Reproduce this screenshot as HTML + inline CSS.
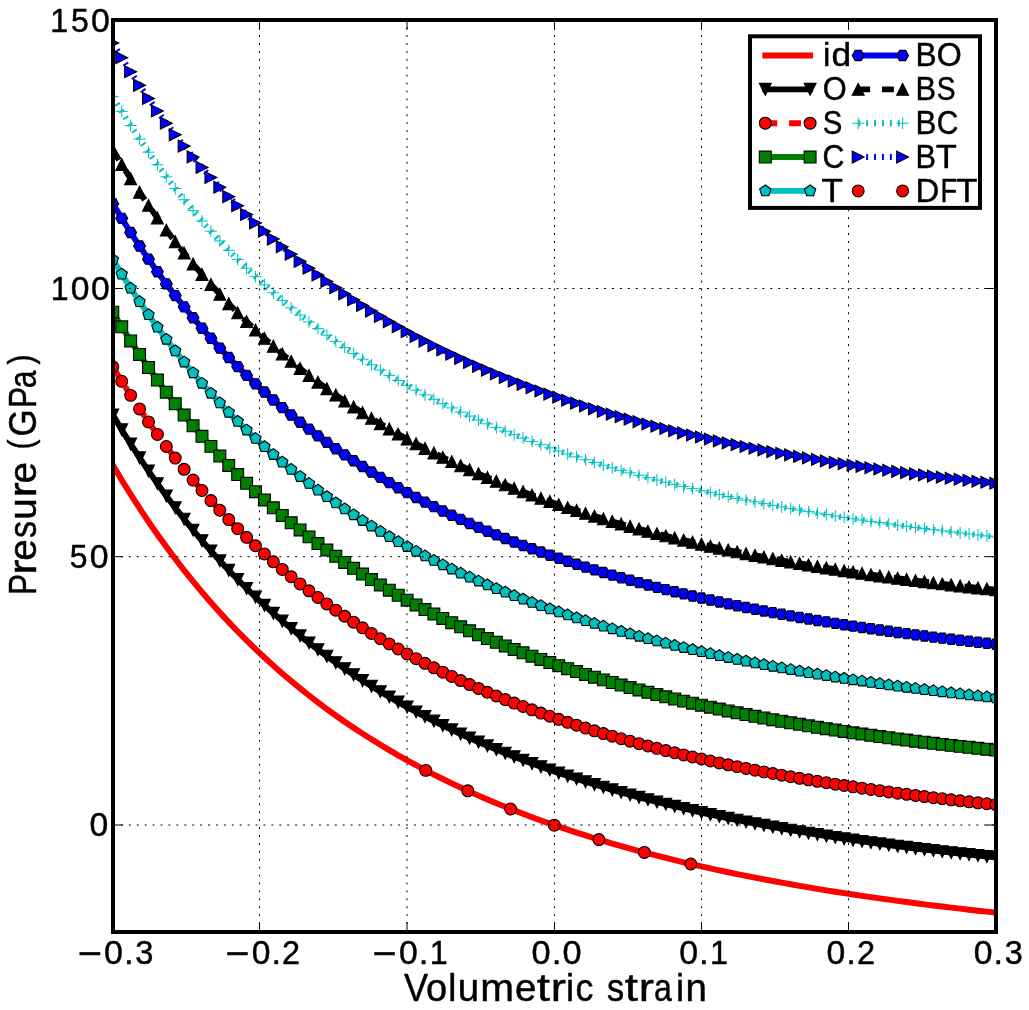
<!DOCTYPE html><html><head><meta charset="utf-8"><style>html,body{margin:0;padding:0;background:#fff;overflow:hidden}svg{display:block;will-change:transform;filter:blur(0.35px)}text{font-family:"Liberation Sans", sans-serif;font-kerning:none;fill:#000;stroke:#000;stroke-width:0.45px;stroke-linejoin:round}</style></head><body>
<svg width="1029" height="1010" viewBox="0 0 1029 1010">
<defs><clipPath id="ax"><rect x="112.8" y="20" width="883" height="912.5"/></clipPath>
<path id="mv" d="M0 5.94 L5.94 -5.94 L-5.94 -5.94 Z"/>
<path id="mu" d="M0 -5.94 L-5.94 5.94 L5.94 5.94 Z"/>
<path id="mr" d="M5.94 0 L-5.94 -5.94 L-5.94 5.94 Z"/>
<path id="ms" d="M-5.94 -5.94 L5.94 -5.94 L5.94 5.94 L-5.94 5.94 Z"/>
<path id="mp" d="M0 -5.94 L-5.65 -1.84 L-3.49 4.81 L3.49 4.81 L5.65 -1.84 Z"/>
<path id="mH" d="M-2.97 -5.14 L-5.94 -0 L-2.97 5.14 L2.97 5.14 L5.94 0 L2.97 -5.14 Z"/>
<circle id="mo" r="5.94"/>
<path id="mplus" d="M-5.94 0 H5.94 M0 -5.94 V5.94"/>
</defs>
<rect width="1029" height="1010" fill="#fff"/>
<g clip-path="url(#ax)">
<path d="M112.8 464.92 L121.72 479.91 L130.64 494.33 L139.56 508.21 L148.48 521.58 L157.4 534.45 L166.32 546.85 L175.23 558.81 L184.15 570.33 L193.07 581.44 L201.99 592.16 L210.91 602.5 L219.83 612.48 L228.75 622.12 L237.67 631.43 L246.59 640.42 L255.51 649.1 L264.43 657.49 L273.35 665.61 L282.26 673.46 L291.18 681.04 L300.1 688.39 L309.02 695.49 L317.94 702.37 L326.86 709.02 L335.78 715.47 L344.7 721.71 L353.62 727.76 L362.54 733.62 L371.46 739.3 L380.38 744.81 L389.29 750.15 L398.21 755.33 L407.13 760.35 L416.05 765.23 L424.97 769.96 L433.89 774.55 L442.81 779.01 L451.73 783.34 L460.65 787.54 L469.57 791.62 L478.49 795.59 L487.41 799.44 L496.33 803.19 L505.24 806.83 L514.16 810.37 L523.08 813.82 L532 817.17 L540.92 820.42 L549.84 823.59 L558.76 826.68 L567.68 829.68 L576.6 832.6 L585.52 835.45 L594.44 838.22 L603.36 840.92 L612.27 843.54 L621.19 846.1 L630.11 848.6 L639.03 851.03 L647.95 853.4 L656.87 855.71 L665.79 857.96 L674.71 860.15 L683.63 862.29 L692.55 864.38 L701.47 866.42 L710.39 868.4 L719.31 870.34 L728.22 872.23 L737.14 874.08 L746.06 875.88 L754.98 877.64 L763.9 879.36 L772.82 881.03 L781.74 882.67 L790.66 884.27 L799.58 885.83 L808.5 887.36 L817.42 888.85 L826.34 890.31 L835.25 891.73 L844.17 893.13 L853.09 894.49 L862.01 895.82 L870.93 897.12 L879.85 898.39 L888.77 899.64 L897.69 900.85 L906.61 902.04 L915.53 903.21 L924.45 904.35 L933.37 905.46 L942.28 906.56 L951.2 907.62 L960.12 908.67 L969.04 909.69 L977.96 910.69 L986.88 911.67 L995.8 912.63" fill="none" stroke="#ff0000" stroke-width="5.94" stroke-linecap="square" stroke-linejoin="round"/>
<path d="M112.8 414.87 L121.72 429.7 L130.64 443.98 L139.56 457.71 L148.48 470.94 L157.4 483.67 L166.32 495.94 L175.23 507.76 L184.15 519.15 L193.07 530.14 L201.99 540.74 L210.91 550.96 L219.83 560.83 L228.75 570.35 L237.67 579.55 L246.59 588.44 L255.51 597.02 L264.43 605.31 L273.35 613.33 L282.26 621.09 L291.18 628.59 L300.1 635.85 L309.02 642.87 L317.94 649.66 L326.86 656.25 L335.78 662.62 L344.7 668.79 L353.62 674.78 L362.54 680.58 L371.46 686.2 L380.38 691.65 L389.29 696.93 L398.21 702.06 L407.13 707.04 L416.05 711.87 L424.97 716.56 L433.89 721.11 L442.81 725.53 L451.73 729.83 L460.65 734 L469.57 738.06 L478.49 742 L487.41 745.84 L496.33 749.57 L505.24 753.19 L514.16 756.72 L523.08 760.16 L532 763.5 L540.92 766.75 L549.84 769.92 L558.76 773 L567.68 776 L576.6 778.92 L585.52 781.76 L594.44 784.53 L603.36 787.22 L612.27 789.84 L621.19 792.39 L630.11 794.87 L639.03 797.29 L647.95 799.65 L656.87 801.94 L665.79 804.18 L674.71 806.36 L683.63 808.48 L692.55 810.55 L701.47 812.56 L710.39 814.53 L719.31 816.44 L728.22 818.31 L737.14 820.13 L746.06 821.9 L754.98 823.63 L763.9 825.32 L772.82 826.96 L781.74 828.57 L790.66 830.14 L799.58 831.66 L808.5 833.15 L817.42 834.61 L826.34 836.03 L835.25 837.41 L844.17 838.76 L853.09 840.08 L862.01 841.37 L870.93 842.62 L879.85 843.85 L888.77 845.04 L897.69 846.21 L906.61 847.35 L915.53 848.46 L924.45 849.55 L933.37 850.61 L942.28 851.64 L951.2 852.65 L960.12 853.64 L969.04 854.6 L977.96 855.54 L986.88 856.46 L995.8 857.36" fill="none" stroke="#000000" stroke-width="5.94" stroke-linecap="square" stroke-linejoin="round"/>
<g fill="#000000" stroke="#000" stroke-width="1.1">
<use href="#mv" x="112.8" y="414.87"/>
<use href="#mv" x="121.72" y="429.7"/>
<use href="#mv" x="130.64" y="443.98"/>
<use href="#mv" x="139.56" y="457.71"/>
<use href="#mv" x="148.48" y="470.94"/>
<use href="#mv" x="157.4" y="483.67"/>
<use href="#mv" x="166.32" y="495.94"/>
<use href="#mv" x="175.23" y="507.76"/>
<use href="#mv" x="184.15" y="519.15"/>
<use href="#mv" x="193.07" y="530.14"/>
<use href="#mv" x="201.99" y="540.74"/>
<use href="#mv" x="210.91" y="550.96"/>
<use href="#mv" x="219.83" y="560.83"/>
<use href="#mv" x="228.75" y="570.35"/>
<use href="#mv" x="237.67" y="579.55"/>
<use href="#mv" x="246.59" y="588.44"/>
<use href="#mv" x="255.51" y="597.02"/>
<use href="#mv" x="264.43" y="605.31"/>
<use href="#mv" x="273.35" y="613.33"/>
<use href="#mv" x="282.26" y="621.09"/>
<use href="#mv" x="291.18" y="628.59"/>
<use href="#mv" x="300.1" y="635.85"/>
<use href="#mv" x="309.02" y="642.87"/>
<use href="#mv" x="317.94" y="649.66"/>
<use href="#mv" x="326.86" y="656.25"/>
<use href="#mv" x="335.78" y="662.62"/>
<use href="#mv" x="344.7" y="668.79"/>
<use href="#mv" x="353.62" y="674.78"/>
<use href="#mv" x="362.54" y="680.58"/>
<use href="#mv" x="371.46" y="686.2"/>
<use href="#mv" x="380.38" y="691.65"/>
<use href="#mv" x="389.29" y="696.93"/>
<use href="#mv" x="398.21" y="702.06"/>
<use href="#mv" x="407.13" y="707.04"/>
<use href="#mv" x="416.05" y="711.87"/>
<use href="#mv" x="424.97" y="716.56"/>
<use href="#mv" x="433.89" y="721.11"/>
<use href="#mv" x="442.81" y="725.53"/>
<use href="#mv" x="451.73" y="729.83"/>
<use href="#mv" x="460.65" y="734"/>
<use href="#mv" x="469.57" y="738.06"/>
<use href="#mv" x="478.49" y="742"/>
<use href="#mv" x="487.41" y="745.84"/>
<use href="#mv" x="496.33" y="749.57"/>
<use href="#mv" x="505.24" y="753.19"/>
<use href="#mv" x="514.16" y="756.72"/>
<use href="#mv" x="523.08" y="760.16"/>
<use href="#mv" x="532" y="763.5"/>
<use href="#mv" x="540.92" y="766.75"/>
<use href="#mv" x="549.84" y="769.92"/>
<use href="#mv" x="558.76" y="773"/>
<use href="#mv" x="567.68" y="776"/>
<use href="#mv" x="576.6" y="778.92"/>
<use href="#mv" x="585.52" y="781.76"/>
<use href="#mv" x="594.44" y="784.53"/>
<use href="#mv" x="603.36" y="787.22"/>
<use href="#mv" x="612.27" y="789.84"/>
<use href="#mv" x="621.19" y="792.39"/>
<use href="#mv" x="630.11" y="794.87"/>
<use href="#mv" x="639.03" y="797.29"/>
<use href="#mv" x="647.95" y="799.65"/>
<use href="#mv" x="656.87" y="801.94"/>
<use href="#mv" x="665.79" y="804.18"/>
<use href="#mv" x="674.71" y="806.36"/>
<use href="#mv" x="683.63" y="808.48"/>
<use href="#mv" x="692.55" y="810.55"/>
<use href="#mv" x="701.47" y="812.56"/>
<use href="#mv" x="710.39" y="814.53"/>
<use href="#mv" x="719.31" y="816.44"/>
<use href="#mv" x="728.22" y="818.31"/>
<use href="#mv" x="737.14" y="820.13"/>
<use href="#mv" x="746.06" y="821.9"/>
<use href="#mv" x="754.98" y="823.63"/>
<use href="#mv" x="763.9" y="825.32"/>
<use href="#mv" x="772.82" y="826.96"/>
<use href="#mv" x="781.74" y="828.57"/>
<use href="#mv" x="790.66" y="830.14"/>
<use href="#mv" x="799.58" y="831.66"/>
<use href="#mv" x="808.5" y="833.15"/>
<use href="#mv" x="817.42" y="834.61"/>
<use href="#mv" x="826.34" y="836.03"/>
<use href="#mv" x="835.25" y="837.41"/>
<use href="#mv" x="844.17" y="838.76"/>
<use href="#mv" x="853.09" y="840.08"/>
<use href="#mv" x="862.01" y="841.37"/>
<use href="#mv" x="870.93" y="842.62"/>
<use href="#mv" x="879.85" y="843.85"/>
<use href="#mv" x="888.77" y="845.04"/>
<use href="#mv" x="897.69" y="846.21"/>
<use href="#mv" x="906.61" y="847.35"/>
<use href="#mv" x="915.53" y="848.46"/>
<use href="#mv" x="924.45" y="849.55"/>
<use href="#mv" x="933.37" y="850.61"/>
<use href="#mv" x="942.28" y="851.64"/>
<use href="#mv" x="951.2" y="852.65"/>
<use href="#mv" x="960.12" y="853.64"/>
<use href="#mv" x="969.04" y="854.6"/>
<use href="#mv" x="977.96" y="855.54"/>
<use href="#mv" x="986.88" y="856.46"/>
<use href="#mv" x="995.8" y="857.36"/>
</g>
<path d="M112.8 366.72 L121.72 381.33 L130.64 395.37 L139.56 408.89 L148.48 421.89 L157.4 434.42 L166.32 446.48 L175.23 458.1 L184.15 469.3 L193.07 480.09 L201.99 490.51 L210.91 500.55 L219.83 510.24 L228.75 519.59 L237.67 528.63 L246.59 537.35 L255.51 545.78 L264.43 553.92 L273.35 561.8 L282.26 569.41 L291.18 576.78 L300.1 583.9 L309.02 590.8 L317.94 597.48 L326.86 603.94 L335.78 610.21 L344.7 616.28 L353.62 622.16 L362.54 627.86 L371.46 633.39 L380.38 638.75 L389.29 643.96 L398.21 649.01 L407.13 653.91 L416.05 658.68 L424.97 663.3 L433.89 667.8 L442.81 672.16 L451.73 676.41 L460.65 680.54 L469.57 684.56 L478.49 688.46 L487.41 692.27 L496.33 695.97 L505.24 699.57 L514.16 703.08 L523.08 706.5 L532 709.83 L540.92 713.08 L549.84 716.24 L558.76 719.33 L567.68 722.33 L576.6 725.25 L585.52 728.09 L594.44 730.86 L603.36 733.56 L612.27 736.18 L621.19 738.74 L630.11 741.23 L639.03 743.65 L647.95 746.02 L656.87 748.32 L665.79 750.57 L674.71 752.75 L683.63 754.89 L692.55 756.97 L701.47 759 L710.39 760.97 L719.31 762.9 L728.22 764.79 L737.14 766.62 L746.06 768.41 L754.98 770.16 L763.9 771.87 L772.82 773.53 L781.74 775.16 L790.66 776.75 L799.58 778.3 L808.5 779.81 L817.42 781.29 L826.34 782.73 L835.25 784.14 L844.17 785.52 L853.09 786.86 L862.01 788.17 L870.93 789.46 L879.85 790.71 L888.77 791.94 L897.69 793.14 L906.61 794.31 L915.53 795.45 L924.45 796.57 L933.37 797.67 L942.28 798.74 L951.2 799.79 L960.12 800.81 L969.04 801.81 L977.96 802.79 L986.88 803.75 L995.8 804.68" fill="none" stroke="#ff0000" stroke-width="5.94" stroke-dasharray="11.88 11.88" stroke-linecap="butt" stroke-linejoin="round"/>
<g fill="#ff0000" stroke="#000" stroke-width="1.1">
<use href="#mo" x="112.8" y="366.72"/>
<use href="#mo" x="121.72" y="381.33"/>
<use href="#mo" x="130.64" y="395.37"/>
<use href="#mo" x="139.56" y="408.89"/>
<use href="#mo" x="148.48" y="421.89"/>
<use href="#mo" x="157.4" y="434.42"/>
<use href="#mo" x="166.32" y="446.48"/>
<use href="#mo" x="175.23" y="458.1"/>
<use href="#mo" x="184.15" y="469.3"/>
<use href="#mo" x="193.07" y="480.09"/>
<use href="#mo" x="201.99" y="490.51"/>
<use href="#mo" x="210.91" y="500.55"/>
<use href="#mo" x="219.83" y="510.24"/>
<use href="#mo" x="228.75" y="519.59"/>
<use href="#mo" x="237.67" y="528.63"/>
<use href="#mo" x="246.59" y="537.35"/>
<use href="#mo" x="255.51" y="545.78"/>
<use href="#mo" x="264.43" y="553.92"/>
<use href="#mo" x="273.35" y="561.8"/>
<use href="#mo" x="282.26" y="569.41"/>
<use href="#mo" x="291.18" y="576.78"/>
<use href="#mo" x="300.1" y="583.9"/>
<use href="#mo" x="309.02" y="590.8"/>
<use href="#mo" x="317.94" y="597.48"/>
<use href="#mo" x="326.86" y="603.94"/>
<use href="#mo" x="335.78" y="610.21"/>
<use href="#mo" x="344.7" y="616.28"/>
<use href="#mo" x="353.62" y="622.16"/>
<use href="#mo" x="362.54" y="627.86"/>
<use href="#mo" x="371.46" y="633.39"/>
<use href="#mo" x="380.38" y="638.75"/>
<use href="#mo" x="389.29" y="643.96"/>
<use href="#mo" x="398.21" y="649.01"/>
<use href="#mo" x="407.13" y="653.91"/>
<use href="#mo" x="416.05" y="658.68"/>
<use href="#mo" x="424.97" y="663.3"/>
<use href="#mo" x="433.89" y="667.8"/>
<use href="#mo" x="442.81" y="672.16"/>
<use href="#mo" x="451.73" y="676.41"/>
<use href="#mo" x="460.65" y="680.54"/>
<use href="#mo" x="469.57" y="684.56"/>
<use href="#mo" x="478.49" y="688.46"/>
<use href="#mo" x="487.41" y="692.27"/>
<use href="#mo" x="496.33" y="695.97"/>
<use href="#mo" x="505.24" y="699.57"/>
<use href="#mo" x="514.16" y="703.08"/>
<use href="#mo" x="523.08" y="706.5"/>
<use href="#mo" x="532" y="709.83"/>
<use href="#mo" x="540.92" y="713.08"/>
<use href="#mo" x="549.84" y="716.24"/>
<use href="#mo" x="558.76" y="719.33"/>
<use href="#mo" x="567.68" y="722.33"/>
<use href="#mo" x="576.6" y="725.25"/>
<use href="#mo" x="585.52" y="728.09"/>
<use href="#mo" x="594.44" y="730.86"/>
<use href="#mo" x="603.36" y="733.56"/>
<use href="#mo" x="612.27" y="736.18"/>
<use href="#mo" x="621.19" y="738.74"/>
<use href="#mo" x="630.11" y="741.23"/>
<use href="#mo" x="639.03" y="743.65"/>
<use href="#mo" x="647.95" y="746.02"/>
<use href="#mo" x="656.87" y="748.32"/>
<use href="#mo" x="665.79" y="750.57"/>
<use href="#mo" x="674.71" y="752.75"/>
<use href="#mo" x="683.63" y="754.89"/>
<use href="#mo" x="692.55" y="756.97"/>
<use href="#mo" x="701.47" y="759"/>
<use href="#mo" x="710.39" y="760.97"/>
<use href="#mo" x="719.31" y="762.9"/>
<use href="#mo" x="728.22" y="764.79"/>
<use href="#mo" x="737.14" y="766.62"/>
<use href="#mo" x="746.06" y="768.41"/>
<use href="#mo" x="754.98" y="770.16"/>
<use href="#mo" x="763.9" y="771.87"/>
<use href="#mo" x="772.82" y="773.53"/>
<use href="#mo" x="781.74" y="775.16"/>
<use href="#mo" x="790.66" y="776.75"/>
<use href="#mo" x="799.58" y="778.3"/>
<use href="#mo" x="808.5" y="779.81"/>
<use href="#mo" x="817.42" y="781.29"/>
<use href="#mo" x="826.34" y="782.73"/>
<use href="#mo" x="835.25" y="784.14"/>
<use href="#mo" x="844.17" y="785.52"/>
<use href="#mo" x="853.09" y="786.86"/>
<use href="#mo" x="862.01" y="788.17"/>
<use href="#mo" x="870.93" y="789.46"/>
<use href="#mo" x="879.85" y="790.71"/>
<use href="#mo" x="888.77" y="791.94"/>
<use href="#mo" x="897.69" y="793.14"/>
<use href="#mo" x="906.61" y="794.31"/>
<use href="#mo" x="915.53" y="795.45"/>
<use href="#mo" x="924.45" y="796.57"/>
<use href="#mo" x="933.37" y="797.67"/>
<use href="#mo" x="942.28" y="798.74"/>
<use href="#mo" x="951.2" y="799.79"/>
<use href="#mo" x="960.12" y="800.81"/>
<use href="#mo" x="969.04" y="801.81"/>
<use href="#mo" x="977.96" y="802.79"/>
<use href="#mo" x="986.88" y="803.75"/>
<use href="#mo" x="995.8" y="804.68"/>
</g>
<path d="M112.8 312.19 L121.72 326.83 L130.64 340.91 L139.56 354.46 L148.48 367.5 L157.4 380.06 L166.32 392.15 L175.23 403.8 L184.15 415.03 L193.07 425.86 L201.99 436.3 L210.91 446.37 L219.83 456.09 L228.75 465.47 L237.67 474.52 L246.59 483.27 L255.51 491.73 L264.43 499.89 L273.35 507.79 L282.26 515.43 L291.18 522.81 L300.1 529.96 L309.02 536.88 L317.94 543.57 L326.86 550.05 L335.78 556.34 L344.7 562.42 L353.62 568.32 L362.54 574.03 L371.46 579.58 L380.38 584.96 L389.29 590.17 L398.21 595.24 L407.13 600.15 L416.05 604.92 L424.97 609.56 L433.89 614.06 L442.81 618.44 L451.73 622.69 L460.65 626.83 L469.57 630.85 L478.49 634.77 L487.41 638.57 L496.33 642.28 L505.24 645.89 L514.16 649.4 L523.08 652.82 L532 656.15 L540.92 659.4 L549.84 662.57 L558.76 665.65 L567.68 668.65 L576.6 671.57 L585.52 674.41 L594.44 677.18 L603.36 679.87 L612.27 682.49 L621.19 685.04 L630.11 687.52 L639.03 689.94 L647.95 692.3 L656.87 694.59 L665.79 696.83 L674.71 699.01 L683.63 701.13 L692.55 703.2 L701.47 705.22 L710.39 707.18 L719.31 709.1 L728.22 710.97 L737.14 712.79 L746.06 714.57 L754.98 716.3 L763.9 717.99 L772.82 719.64 L781.74 721.24 L790.66 722.81 L799.58 724.34 L808.5 725.83 L817.42 727.29 L826.34 728.71 L835.25 730.1 L844.17 731.45 L853.09 732.77 L862.01 734.06 L870.93 735.32 L879.85 736.55 L888.77 737.75 L897.69 738.92 L906.61 740.06 L915.53 741.18 L924.45 742.26 L933.37 743.33 L942.28 744.37 L951.2 745.38 L960.12 746.37 L969.04 747.34 L977.96 748.28 L986.88 749.21 L995.8 750.11" fill="none" stroke="#008000" stroke-width="5.94" stroke-linecap="square" stroke-linejoin="round"/>
<g fill="#008000" stroke="#000" stroke-width="1.1">
<use href="#ms" x="112.8" y="312.19"/>
<use href="#ms" x="121.72" y="326.83"/>
<use href="#ms" x="130.64" y="340.91"/>
<use href="#ms" x="139.56" y="354.46"/>
<use href="#ms" x="148.48" y="367.5"/>
<use href="#ms" x="157.4" y="380.06"/>
<use href="#ms" x="166.32" y="392.15"/>
<use href="#ms" x="175.23" y="403.8"/>
<use href="#ms" x="184.15" y="415.03"/>
<use href="#ms" x="193.07" y="425.86"/>
<use href="#ms" x="201.99" y="436.3"/>
<use href="#ms" x="210.91" y="446.37"/>
<use href="#ms" x="219.83" y="456.09"/>
<use href="#ms" x="228.75" y="465.47"/>
<use href="#ms" x="237.67" y="474.52"/>
<use href="#ms" x="246.59" y="483.27"/>
<use href="#ms" x="255.51" y="491.73"/>
<use href="#ms" x="264.43" y="499.89"/>
<use href="#ms" x="273.35" y="507.79"/>
<use href="#ms" x="282.26" y="515.43"/>
<use href="#ms" x="291.18" y="522.81"/>
<use href="#ms" x="300.1" y="529.96"/>
<use href="#ms" x="309.02" y="536.88"/>
<use href="#ms" x="317.94" y="543.57"/>
<use href="#ms" x="326.86" y="550.05"/>
<use href="#ms" x="335.78" y="556.34"/>
<use href="#ms" x="344.7" y="562.42"/>
<use href="#ms" x="353.62" y="568.32"/>
<use href="#ms" x="362.54" y="574.03"/>
<use href="#ms" x="371.46" y="579.58"/>
<use href="#ms" x="380.38" y="584.96"/>
<use href="#ms" x="389.29" y="590.17"/>
<use href="#ms" x="398.21" y="595.24"/>
<use href="#ms" x="407.13" y="600.15"/>
<use href="#ms" x="416.05" y="604.92"/>
<use href="#ms" x="424.97" y="609.56"/>
<use href="#ms" x="433.89" y="614.06"/>
<use href="#ms" x="442.81" y="618.44"/>
<use href="#ms" x="451.73" y="622.69"/>
<use href="#ms" x="460.65" y="626.83"/>
<use href="#ms" x="469.57" y="630.85"/>
<use href="#ms" x="478.49" y="634.77"/>
<use href="#ms" x="487.41" y="638.57"/>
<use href="#ms" x="496.33" y="642.28"/>
<use href="#ms" x="505.24" y="645.89"/>
<use href="#ms" x="514.16" y="649.4"/>
<use href="#ms" x="523.08" y="652.82"/>
<use href="#ms" x="532" y="656.15"/>
<use href="#ms" x="540.92" y="659.4"/>
<use href="#ms" x="549.84" y="662.57"/>
<use href="#ms" x="558.76" y="665.65"/>
<use href="#ms" x="567.68" y="668.65"/>
<use href="#ms" x="576.6" y="671.57"/>
<use href="#ms" x="585.52" y="674.41"/>
<use href="#ms" x="594.44" y="677.18"/>
<use href="#ms" x="603.36" y="679.87"/>
<use href="#ms" x="612.27" y="682.49"/>
<use href="#ms" x="621.19" y="685.04"/>
<use href="#ms" x="630.11" y="687.52"/>
<use href="#ms" x="639.03" y="689.94"/>
<use href="#ms" x="647.95" y="692.3"/>
<use href="#ms" x="656.87" y="694.59"/>
<use href="#ms" x="665.79" y="696.83"/>
<use href="#ms" x="674.71" y="699.01"/>
<use href="#ms" x="683.63" y="701.13"/>
<use href="#ms" x="692.55" y="703.2"/>
<use href="#ms" x="701.47" y="705.22"/>
<use href="#ms" x="710.39" y="707.18"/>
<use href="#ms" x="719.31" y="709.1"/>
<use href="#ms" x="728.22" y="710.97"/>
<use href="#ms" x="737.14" y="712.79"/>
<use href="#ms" x="746.06" y="714.57"/>
<use href="#ms" x="754.98" y="716.3"/>
<use href="#ms" x="763.9" y="717.99"/>
<use href="#ms" x="772.82" y="719.64"/>
<use href="#ms" x="781.74" y="721.24"/>
<use href="#ms" x="790.66" y="722.81"/>
<use href="#ms" x="799.58" y="724.34"/>
<use href="#ms" x="808.5" y="725.83"/>
<use href="#ms" x="817.42" y="727.29"/>
<use href="#ms" x="826.34" y="728.71"/>
<use href="#ms" x="835.25" y="730.1"/>
<use href="#ms" x="844.17" y="731.45"/>
<use href="#ms" x="853.09" y="732.77"/>
<use href="#ms" x="862.01" y="734.06"/>
<use href="#ms" x="870.93" y="735.32"/>
<use href="#ms" x="879.85" y="736.55"/>
<use href="#ms" x="888.77" y="737.75"/>
<use href="#ms" x="897.69" y="738.92"/>
<use href="#ms" x="906.61" y="740.06"/>
<use href="#ms" x="915.53" y="741.18"/>
<use href="#ms" x="924.45" y="742.26"/>
<use href="#ms" x="933.37" y="743.33"/>
<use href="#ms" x="942.28" y="744.37"/>
<use href="#ms" x="951.2" y="745.38"/>
<use href="#ms" x="960.12" y="746.37"/>
<use href="#ms" x="969.04" y="747.34"/>
<use href="#ms" x="977.96" y="748.28"/>
<use href="#ms" x="986.88" y="749.21"/>
<use href="#ms" x="995.8" y="750.11"/>
</g>
<path d="M112.8 259.56 L121.72 274.15 L130.64 288.19 L139.56 301.7 L148.48 314.7 L157.4 327.21 L166.32 339.27 L175.23 350.88 L184.15 362.07 L193.07 372.86 L201.99 383.27 L210.91 393.31 L219.83 402.99 L228.75 412.34 L237.67 421.37 L246.59 430.09 L255.51 438.51 L264.43 446.65 L273.35 454.52 L282.26 462.13 L291.18 469.49 L300.1 476.61 L309.02 483.5 L317.94 490.18 L326.86 496.64 L335.78 502.9 L344.7 508.96 L353.62 514.84 L362.54 520.54 L371.46 526.07 L380.38 531.43 L389.29 536.63 L398.21 541.68 L407.13 546.58 L416.05 551.34 L424.97 555.96 L433.89 560.46 L442.81 564.82 L451.73 569.07 L460.65 573.19 L469.57 577.21 L478.49 581.11 L487.41 584.92 L496.33 588.62 L505.24 592.22 L514.16 595.73 L523.08 599.15 L532 602.48 L540.92 605.72 L549.84 608.89 L558.76 611.97 L567.68 614.97 L576.6 617.9 L585.52 620.74 L594.44 623.51 L603.36 626.21 L612.27 628.84 L621.19 631.4 L630.11 633.89 L639.03 636.32 L647.95 638.69 L656.87 641 L665.79 643.25 L674.71 645.45 L683.63 647.59 L692.55 649.67 L701.47 651.71 L710.39 653.7 L719.31 655.63 L728.22 657.53 L737.14 659.37 L746.06 661.17 L754.98 662.93 L763.9 664.65 L772.82 666.33 L781.74 667.97 L790.66 669.57 L799.58 671.13 L808.5 672.65 L817.42 674.15 L826.34 675.6 L835.25 677.03 L844.17 678.42 L853.09 679.78 L862.01 681.11 L870.93 682.41 L879.85 683.69 L888.77 684.93 L897.69 686.15 L906.61 687.34 L915.53 688.5 L924.45 689.64 L933.37 690.76 L942.28 691.85 L951.2 692.92 L960.12 693.96 L969.04 694.99 L977.96 695.99 L986.88 696.97 L995.8 697.93" fill="none" stroke="#00bfbf" stroke-width="5.94" stroke-linecap="square" stroke-linejoin="round"/>
<g fill="#00bfbf" stroke="#000" stroke-width="1.1">
<use href="#mp" x="112.8" y="259.56"/>
<use href="#mp" x="121.72" y="274.15"/>
<use href="#mp" x="130.64" y="288.19"/>
<use href="#mp" x="139.56" y="301.7"/>
<use href="#mp" x="148.48" y="314.7"/>
<use href="#mp" x="157.4" y="327.21"/>
<use href="#mp" x="166.32" y="339.27"/>
<use href="#mp" x="175.23" y="350.88"/>
<use href="#mp" x="184.15" y="362.07"/>
<use href="#mp" x="193.07" y="372.86"/>
<use href="#mp" x="201.99" y="383.27"/>
<use href="#mp" x="210.91" y="393.31"/>
<use href="#mp" x="219.83" y="402.99"/>
<use href="#mp" x="228.75" y="412.34"/>
<use href="#mp" x="237.67" y="421.37"/>
<use href="#mp" x="246.59" y="430.09"/>
<use href="#mp" x="255.51" y="438.51"/>
<use href="#mp" x="264.43" y="446.65"/>
<use href="#mp" x="273.35" y="454.52"/>
<use href="#mp" x="282.26" y="462.13"/>
<use href="#mp" x="291.18" y="469.49"/>
<use href="#mp" x="300.1" y="476.61"/>
<use href="#mp" x="309.02" y="483.5"/>
<use href="#mp" x="317.94" y="490.18"/>
<use href="#mp" x="326.86" y="496.64"/>
<use href="#mp" x="335.78" y="502.9"/>
<use href="#mp" x="344.7" y="508.96"/>
<use href="#mp" x="353.62" y="514.84"/>
<use href="#mp" x="362.54" y="520.54"/>
<use href="#mp" x="371.46" y="526.07"/>
<use href="#mp" x="380.38" y="531.43"/>
<use href="#mp" x="389.29" y="536.63"/>
<use href="#mp" x="398.21" y="541.68"/>
<use href="#mp" x="407.13" y="546.58"/>
<use href="#mp" x="416.05" y="551.34"/>
<use href="#mp" x="424.97" y="555.96"/>
<use href="#mp" x="433.89" y="560.46"/>
<use href="#mp" x="442.81" y="564.82"/>
<use href="#mp" x="451.73" y="569.07"/>
<use href="#mp" x="460.65" y="573.19"/>
<use href="#mp" x="469.57" y="577.21"/>
<use href="#mp" x="478.49" y="581.11"/>
<use href="#mp" x="487.41" y="584.92"/>
<use href="#mp" x="496.33" y="588.62"/>
<use href="#mp" x="505.24" y="592.22"/>
<use href="#mp" x="514.16" y="595.73"/>
<use href="#mp" x="523.08" y="599.15"/>
<use href="#mp" x="532" y="602.48"/>
<use href="#mp" x="540.92" y="605.72"/>
<use href="#mp" x="549.84" y="608.89"/>
<use href="#mp" x="558.76" y="611.97"/>
<use href="#mp" x="567.68" y="614.97"/>
<use href="#mp" x="576.6" y="617.9"/>
<use href="#mp" x="585.52" y="620.74"/>
<use href="#mp" x="594.44" y="623.51"/>
<use href="#mp" x="603.36" y="626.21"/>
<use href="#mp" x="612.27" y="628.84"/>
<use href="#mp" x="621.19" y="631.4"/>
<use href="#mp" x="630.11" y="633.89"/>
<use href="#mp" x="639.03" y="636.32"/>
<use href="#mp" x="647.95" y="638.69"/>
<use href="#mp" x="656.87" y="641"/>
<use href="#mp" x="665.79" y="643.25"/>
<use href="#mp" x="674.71" y="645.45"/>
<use href="#mp" x="683.63" y="647.59"/>
<use href="#mp" x="692.55" y="649.67"/>
<use href="#mp" x="701.47" y="651.71"/>
<use href="#mp" x="710.39" y="653.7"/>
<use href="#mp" x="719.31" y="655.63"/>
<use href="#mp" x="728.22" y="657.53"/>
<use href="#mp" x="737.14" y="659.37"/>
<use href="#mp" x="746.06" y="661.17"/>
<use href="#mp" x="754.98" y="662.93"/>
<use href="#mp" x="763.9" y="664.65"/>
<use href="#mp" x="772.82" y="666.33"/>
<use href="#mp" x="781.74" y="667.97"/>
<use href="#mp" x="790.66" y="669.57"/>
<use href="#mp" x="799.58" y="671.13"/>
<use href="#mp" x="808.5" y="672.65"/>
<use href="#mp" x="817.42" y="674.15"/>
<use href="#mp" x="826.34" y="675.6"/>
<use href="#mp" x="835.25" y="677.03"/>
<use href="#mp" x="844.17" y="678.42"/>
<use href="#mp" x="853.09" y="679.78"/>
<use href="#mp" x="862.01" y="681.11"/>
<use href="#mp" x="870.93" y="682.41"/>
<use href="#mp" x="879.85" y="683.69"/>
<use href="#mp" x="888.77" y="684.93"/>
<use href="#mp" x="897.69" y="686.15"/>
<use href="#mp" x="906.61" y="687.34"/>
<use href="#mp" x="915.53" y="688.5"/>
<use href="#mp" x="924.45" y="689.64"/>
<use href="#mp" x="933.37" y="690.76"/>
<use href="#mp" x="942.28" y="691.85"/>
<use href="#mp" x="951.2" y="692.92"/>
<use href="#mp" x="960.12" y="693.96"/>
<use href="#mp" x="969.04" y="694.99"/>
<use href="#mp" x="977.96" y="695.99"/>
<use href="#mp" x="986.88" y="696.97"/>
<use href="#mp" x="995.8" y="697.93"/>
</g>
<path d="M112.8 203.65 L121.72 218.34 L130.64 232.47 L139.56 246.06 L148.48 259.15 L157.4 271.75 L166.32 283.89 L175.23 295.58 L184.15 306.86 L193.07 317.72 L201.99 328.2 L210.91 338.31 L219.83 348.07 L228.75 357.49 L237.67 366.58 L246.59 375.36 L255.51 383.85 L264.43 392.05 L273.35 399.98 L282.26 407.64 L291.18 415.06 L300.1 422.23 L309.02 429.18 L317.94 435.9 L326.86 442.41 L335.78 448.71 L344.7 454.82 L353.62 460.74 L362.54 466.48 L371.46 472.04 L380.38 477.43 L389.29 482.67 L398.21 487.75 L407.13 492.68 L416.05 497.47 L424.97 502.12 L433.89 506.63 L442.81 511.02 L451.73 515.29 L460.65 519.43 L469.57 523.46 L478.49 527.38 L487.41 531.2 L496.33 534.91 L505.24 538.52 L514.16 542.04 L523.08 545.46 L532 548.8 L540.92 552.05 L549.84 555.21 L558.76 558.3 L567.68 561.3 L576.6 564.22 L585.52 567.07 L594.44 569.84 L603.36 572.53 L612.27 575.16 L621.19 577.72 L630.11 580.21 L639.03 582.65 L647.95 585.01 L656.87 587.32 L665.79 589.57 L674.71 591.77 L683.63 593.91 L692.55 596 L701.47 598.03 L710.39 600.02 L719.31 601.96 L728.22 603.85 L737.14 605.7 L746.06 607.5 L754.98 609.26 L763.9 610.97 L772.82 612.65 L781.74 614.29 L790.66 615.89 L799.58 617.45 L808.5 618.98 L817.42 620.47 L826.34 621.93 L835.25 623.35 L844.17 624.74 L853.09 626.11 L862.01 627.44 L870.93 628.74 L879.85 630.01 L888.77 631.25 L897.69 632.47 L906.61 633.66 L915.53 634.83 L924.45 635.97 L933.37 637.08 L942.28 638.17 L951.2 639.24 L960.12 640.29 L969.04 641.31 L977.96 642.31 L986.88 643.29 L995.8 644.25" fill="none" stroke="#0000ff" stroke-width="5.94" stroke-linecap="square" stroke-linejoin="round"/>
<g fill="#0000ff" stroke="#000" stroke-width="1.1">
<use href="#mH" x="112.8" y="203.65"/>
<use href="#mH" x="121.72" y="218.34"/>
<use href="#mH" x="130.64" y="232.47"/>
<use href="#mH" x="139.56" y="246.06"/>
<use href="#mH" x="148.48" y="259.15"/>
<use href="#mH" x="157.4" y="271.75"/>
<use href="#mH" x="166.32" y="283.89"/>
<use href="#mH" x="175.23" y="295.58"/>
<use href="#mH" x="184.15" y="306.86"/>
<use href="#mH" x="193.07" y="317.72"/>
<use href="#mH" x="201.99" y="328.2"/>
<use href="#mH" x="210.91" y="338.31"/>
<use href="#mH" x="219.83" y="348.07"/>
<use href="#mH" x="228.75" y="357.49"/>
<use href="#mH" x="237.67" y="366.58"/>
<use href="#mH" x="246.59" y="375.36"/>
<use href="#mH" x="255.51" y="383.85"/>
<use href="#mH" x="264.43" y="392.05"/>
<use href="#mH" x="273.35" y="399.98"/>
<use href="#mH" x="282.26" y="407.64"/>
<use href="#mH" x="291.18" y="415.06"/>
<use href="#mH" x="300.1" y="422.23"/>
<use href="#mH" x="309.02" y="429.18"/>
<use href="#mH" x="317.94" y="435.9"/>
<use href="#mH" x="326.86" y="442.41"/>
<use href="#mH" x="335.78" y="448.71"/>
<use href="#mH" x="344.7" y="454.82"/>
<use href="#mH" x="353.62" y="460.74"/>
<use href="#mH" x="362.54" y="466.48"/>
<use href="#mH" x="371.46" y="472.04"/>
<use href="#mH" x="380.38" y="477.43"/>
<use href="#mH" x="389.29" y="482.67"/>
<use href="#mH" x="398.21" y="487.75"/>
<use href="#mH" x="407.13" y="492.68"/>
<use href="#mH" x="416.05" y="497.47"/>
<use href="#mH" x="424.97" y="502.12"/>
<use href="#mH" x="433.89" y="506.63"/>
<use href="#mH" x="442.81" y="511.02"/>
<use href="#mH" x="451.73" y="515.29"/>
<use href="#mH" x="460.65" y="519.43"/>
<use href="#mH" x="469.57" y="523.46"/>
<use href="#mH" x="478.49" y="527.38"/>
<use href="#mH" x="487.41" y="531.2"/>
<use href="#mH" x="496.33" y="534.91"/>
<use href="#mH" x="505.24" y="538.52"/>
<use href="#mH" x="514.16" y="542.04"/>
<use href="#mH" x="523.08" y="545.46"/>
<use href="#mH" x="532" y="548.8"/>
<use href="#mH" x="540.92" y="552.05"/>
<use href="#mH" x="549.84" y="555.21"/>
<use href="#mH" x="558.76" y="558.3"/>
<use href="#mH" x="567.68" y="561.3"/>
<use href="#mH" x="576.6" y="564.22"/>
<use href="#mH" x="585.52" y="567.07"/>
<use href="#mH" x="594.44" y="569.84"/>
<use href="#mH" x="603.36" y="572.53"/>
<use href="#mH" x="612.27" y="575.16"/>
<use href="#mH" x="621.19" y="577.72"/>
<use href="#mH" x="630.11" y="580.21"/>
<use href="#mH" x="639.03" y="582.65"/>
<use href="#mH" x="647.95" y="585.01"/>
<use href="#mH" x="656.87" y="587.32"/>
<use href="#mH" x="665.79" y="589.57"/>
<use href="#mH" x="674.71" y="591.77"/>
<use href="#mH" x="683.63" y="593.91"/>
<use href="#mH" x="692.55" y="596"/>
<use href="#mH" x="701.47" y="598.03"/>
<use href="#mH" x="710.39" y="600.02"/>
<use href="#mH" x="719.31" y="601.96"/>
<use href="#mH" x="728.22" y="603.85"/>
<use href="#mH" x="737.14" y="605.7"/>
<use href="#mH" x="746.06" y="607.5"/>
<use href="#mH" x="754.98" y="609.26"/>
<use href="#mH" x="763.9" y="610.97"/>
<use href="#mH" x="772.82" y="612.65"/>
<use href="#mH" x="781.74" y="614.29"/>
<use href="#mH" x="790.66" y="615.89"/>
<use href="#mH" x="799.58" y="617.45"/>
<use href="#mH" x="808.5" y="618.98"/>
<use href="#mH" x="817.42" y="620.47"/>
<use href="#mH" x="826.34" y="621.93"/>
<use href="#mH" x="835.25" y="623.35"/>
<use href="#mH" x="844.17" y="624.74"/>
<use href="#mH" x="853.09" y="626.11"/>
<use href="#mH" x="862.01" y="627.44"/>
<use href="#mH" x="870.93" y="628.74"/>
<use href="#mH" x="879.85" y="630.01"/>
<use href="#mH" x="888.77" y="631.25"/>
<use href="#mH" x="897.69" y="632.47"/>
<use href="#mH" x="906.61" y="633.66"/>
<use href="#mH" x="915.53" y="634.83"/>
<use href="#mH" x="924.45" y="635.97"/>
<use href="#mH" x="933.37" y="637.08"/>
<use href="#mH" x="942.28" y="638.17"/>
<use href="#mH" x="951.2" y="639.24"/>
<use href="#mH" x="960.12" y="640.29"/>
<use href="#mH" x="969.04" y="641.31"/>
<use href="#mH" x="977.96" y="642.31"/>
<use href="#mH" x="986.88" y="643.29"/>
<use href="#mH" x="995.8" y="644.25"/>
</g>
<path d="M112.8 149.81 L121.72 164.51 L130.64 178.65 L139.56 192.25 L148.48 205.34 L157.4 217.95 L166.32 230.09 L175.23 241.79 L184.15 253.07 L193.07 263.94 L201.99 274.43 L210.91 284.54 L219.83 294.3 L228.75 303.73 L237.67 312.83 L246.59 321.61 L255.51 330.1 L264.43 338.31 L273.35 346.24 L282.26 353.91 L291.18 361.33 L300.1 368.51 L309.02 375.45 L317.94 382.18 L326.86 388.69 L335.78 395 L344.7 401.11 L353.62 407.03 L362.54 412.77 L371.46 418.34 L380.38 423.74 L389.29 428.97 L398.21 434.06 L407.13 438.99 L416.05 443.78 L424.97 448.43 L433.89 452.95 L442.81 457.34 L451.73 461.6 L460.65 465.75 L469.57 469.78 L478.49 473.7 L487.41 477.52 L496.33 481.23 L505.24 484.84 L514.16 488.36 L523.08 491.79 L532 495.12 L540.92 498.37 L549.84 501.54 L558.76 504.62 L567.68 507.62 L576.6 510.54 L585.52 513.38 L594.44 516.15 L603.36 518.85 L612.27 521.47 L621.19 524.03 L630.11 526.51 L639.03 528.94 L647.95 531.3 L656.87 533.6 L665.79 535.85 L674.71 538.03 L683.63 540.16 L692.55 542.24 L701.47 544.27 L710.39 546.24 L719.31 548.17 L728.22 550.05 L737.14 551.88 L746.06 553.67 L754.98 555.41 L763.9 557.12 L772.82 558.78 L781.74 560.4 L790.66 561.98 L799.58 563.53 L808.5 565.04 L817.42 566.51 L826.34 567.95 L835.25 569.35 L844.17 570.72 L853.09 572.06 L862.01 573.37 L870.93 574.65 L879.85 575.9 L888.77 577.12 L897.69 578.31 L906.61 579.48 L915.53 580.61 L924.45 581.73 L933.37 582.82 L942.28 583.88 L951.2 584.92 L960.12 585.93 L969.04 586.93 L977.96 587.9 L986.88 588.85 L995.8 589.78" fill="none" stroke="#000000" stroke-width="5.94" stroke-dasharray="11.88 11.88" stroke-linecap="butt" stroke-linejoin="round"/>
<g fill="#000000" stroke="#000" stroke-width="1.1">
<use href="#mu" x="112.8" y="149.81"/>
<use href="#mu" x="121.72" y="164.51"/>
<use href="#mu" x="130.64" y="178.65"/>
<use href="#mu" x="139.56" y="192.25"/>
<use href="#mu" x="148.48" y="205.34"/>
<use href="#mu" x="157.4" y="217.95"/>
<use href="#mu" x="166.32" y="230.09"/>
<use href="#mu" x="175.23" y="241.79"/>
<use href="#mu" x="184.15" y="253.07"/>
<use href="#mu" x="193.07" y="263.94"/>
<use href="#mu" x="201.99" y="274.43"/>
<use href="#mu" x="210.91" y="284.54"/>
<use href="#mu" x="219.83" y="294.3"/>
<use href="#mu" x="228.75" y="303.73"/>
<use href="#mu" x="237.67" y="312.83"/>
<use href="#mu" x="246.59" y="321.61"/>
<use href="#mu" x="255.51" y="330.1"/>
<use href="#mu" x="264.43" y="338.31"/>
<use href="#mu" x="273.35" y="346.24"/>
<use href="#mu" x="282.26" y="353.91"/>
<use href="#mu" x="291.18" y="361.33"/>
<use href="#mu" x="300.1" y="368.51"/>
<use href="#mu" x="309.02" y="375.45"/>
<use href="#mu" x="317.94" y="382.18"/>
<use href="#mu" x="326.86" y="388.69"/>
<use href="#mu" x="335.78" y="395"/>
<use href="#mu" x="344.7" y="401.11"/>
<use href="#mu" x="353.62" y="407.03"/>
<use href="#mu" x="362.54" y="412.77"/>
<use href="#mu" x="371.46" y="418.34"/>
<use href="#mu" x="380.38" y="423.74"/>
<use href="#mu" x="389.29" y="428.97"/>
<use href="#mu" x="398.21" y="434.06"/>
<use href="#mu" x="407.13" y="438.99"/>
<use href="#mu" x="416.05" y="443.78"/>
<use href="#mu" x="424.97" y="448.43"/>
<use href="#mu" x="433.89" y="452.95"/>
<use href="#mu" x="442.81" y="457.34"/>
<use href="#mu" x="451.73" y="461.6"/>
<use href="#mu" x="460.65" y="465.75"/>
<use href="#mu" x="469.57" y="469.78"/>
<use href="#mu" x="478.49" y="473.7"/>
<use href="#mu" x="487.41" y="477.52"/>
<use href="#mu" x="496.33" y="481.23"/>
<use href="#mu" x="505.24" y="484.84"/>
<use href="#mu" x="514.16" y="488.36"/>
<use href="#mu" x="523.08" y="491.79"/>
<use href="#mu" x="532" y="495.12"/>
<use href="#mu" x="540.92" y="498.37"/>
<use href="#mu" x="549.84" y="501.54"/>
<use href="#mu" x="558.76" y="504.62"/>
<use href="#mu" x="567.68" y="507.62"/>
<use href="#mu" x="576.6" y="510.54"/>
<use href="#mu" x="585.52" y="513.38"/>
<use href="#mu" x="594.44" y="516.15"/>
<use href="#mu" x="603.36" y="518.85"/>
<use href="#mu" x="612.27" y="521.47"/>
<use href="#mu" x="621.19" y="524.03"/>
<use href="#mu" x="630.11" y="526.51"/>
<use href="#mu" x="639.03" y="528.94"/>
<use href="#mu" x="647.95" y="531.3"/>
<use href="#mu" x="656.87" y="533.6"/>
<use href="#mu" x="665.79" y="535.85"/>
<use href="#mu" x="674.71" y="538.03"/>
<use href="#mu" x="683.63" y="540.16"/>
<use href="#mu" x="692.55" y="542.24"/>
<use href="#mu" x="701.47" y="544.27"/>
<use href="#mu" x="710.39" y="546.24"/>
<use href="#mu" x="719.31" y="548.17"/>
<use href="#mu" x="728.22" y="550.05"/>
<use href="#mu" x="737.14" y="551.88"/>
<use href="#mu" x="746.06" y="553.67"/>
<use href="#mu" x="754.98" y="555.41"/>
<use href="#mu" x="763.9" y="557.12"/>
<use href="#mu" x="772.82" y="558.78"/>
<use href="#mu" x="781.74" y="560.4"/>
<use href="#mu" x="790.66" y="561.98"/>
<use href="#mu" x="799.58" y="563.53"/>
<use href="#mu" x="808.5" y="565.04"/>
<use href="#mu" x="817.42" y="566.51"/>
<use href="#mu" x="826.34" y="567.95"/>
<use href="#mu" x="835.25" y="569.35"/>
<use href="#mu" x="844.17" y="570.72"/>
<use href="#mu" x="853.09" y="572.06"/>
<use href="#mu" x="862.01" y="573.37"/>
<use href="#mu" x="870.93" y="574.65"/>
<use href="#mu" x="879.85" y="575.9"/>
<use href="#mu" x="888.77" y="577.12"/>
<use href="#mu" x="897.69" y="578.31"/>
<use href="#mu" x="906.61" y="579.48"/>
<use href="#mu" x="915.53" y="580.61"/>
<use href="#mu" x="924.45" y="581.73"/>
<use href="#mu" x="933.37" y="582.82"/>
<use href="#mu" x="942.28" y="583.88"/>
<use href="#mu" x="951.2" y="584.92"/>
<use href="#mu" x="960.12" y="585.93"/>
<use href="#mu" x="969.04" y="586.93"/>
<use href="#mu" x="977.96" y="587.9"/>
<use href="#mu" x="986.88" y="588.85"/>
<use href="#mu" x="995.8" y="589.78"/>
</g>
<path d="M112.8 96.71 L121.72 111.38 L130.64 125.5 L139.56 139.08 L148.48 152.15 L157.4 164.73 L166.32 176.85 L175.23 188.53 L184.15 199.79 L193.07 210.64 L201.99 221.11 L210.91 231.21 L219.83 240.95 L228.75 250.35 L237.67 259.43 L246.59 268.21 L255.51 276.68 L264.43 284.87 L273.35 292.79 L282.26 300.44 L291.18 307.85 L300.1 315.01 L309.02 321.94 L317.94 328.66 L326.86 335.16 L335.78 341.45 L344.7 347.55 L353.62 353.46 L362.54 359.19 L371.46 364.75 L380.38 370.14 L389.29 375.37 L398.21 380.44 L407.13 385.37 L416.05 390.15 L424.97 394.8 L433.89 399.31 L442.81 403.69 L451.73 407.95 L460.65 412.09 L469.57 416.12 L478.49 420.04 L487.41 423.85 L496.33 427.56 L505.24 431.17 L514.16 434.69 L523.08 438.11 L532 441.45 L540.92 444.69 L549.84 447.86 L558.76 450.94 L567.68 453.95 L576.6 456.87 L585.52 459.71 L594.44 462.48 L603.36 465.18 L612.27 467.81 L621.19 470.37 L630.11 472.86 L639.03 475.29 L647.95 477.66 L656.87 479.97 L665.79 482.22 L674.71 484.42 L683.63 486.56 L692.55 488.64 L701.47 490.68 L710.39 492.67 L719.31 494.6 L728.22 496.5 L737.14 498.34 L746.06 500.14 L754.98 501.9 L763.9 503.62 L772.82 505.3 L781.74 506.94 L790.66 508.54 L799.58 510.1 L808.5 511.63 L817.42 513.12 L826.34 514.57 L835.25 516 L844.17 517.39 L853.09 518.75 L862.01 520.08 L870.93 521.38 L879.85 522.66 L888.77 523.9 L897.69 525.12 L906.61 526.31 L915.53 527.47 L924.45 528.61 L933.37 529.73 L942.28 530.82 L951.2 531.89 L960.12 532.93 L969.04 533.96 L977.96 534.96 L986.88 535.94 L995.8 536.9" fill="none" stroke="#00bfbf" stroke-width="5.94" stroke-dasharray="1.98 5.94" stroke-linecap="butt" stroke-linejoin="round"/>
<g fill="none" stroke="#00bfbf" stroke-width="1">
<use href="#mplus" x="112.8" y="96.71"/>
<use href="#mplus" x="121.72" y="111.38"/>
<use href="#mplus" x="130.64" y="125.5"/>
<use href="#mplus" x="139.56" y="139.08"/>
<use href="#mplus" x="148.48" y="152.15"/>
<use href="#mplus" x="157.4" y="164.73"/>
<use href="#mplus" x="166.32" y="176.85"/>
<use href="#mplus" x="175.23" y="188.53"/>
<use href="#mplus" x="184.15" y="199.79"/>
<use href="#mplus" x="193.07" y="210.64"/>
<use href="#mplus" x="201.99" y="221.11"/>
<use href="#mplus" x="210.91" y="231.21"/>
<use href="#mplus" x="219.83" y="240.95"/>
<use href="#mplus" x="228.75" y="250.35"/>
<use href="#mplus" x="237.67" y="259.43"/>
<use href="#mplus" x="246.59" y="268.21"/>
<use href="#mplus" x="255.51" y="276.68"/>
<use href="#mplus" x="264.43" y="284.87"/>
<use href="#mplus" x="273.35" y="292.79"/>
<use href="#mplus" x="282.26" y="300.44"/>
<use href="#mplus" x="291.18" y="307.85"/>
<use href="#mplus" x="300.1" y="315.01"/>
<use href="#mplus" x="309.02" y="321.94"/>
<use href="#mplus" x="317.94" y="328.66"/>
<use href="#mplus" x="326.86" y="335.16"/>
<use href="#mplus" x="335.78" y="341.45"/>
<use href="#mplus" x="344.7" y="347.55"/>
<use href="#mplus" x="353.62" y="353.46"/>
<use href="#mplus" x="362.54" y="359.19"/>
<use href="#mplus" x="371.46" y="364.75"/>
<use href="#mplus" x="380.38" y="370.14"/>
<use href="#mplus" x="389.29" y="375.37"/>
<use href="#mplus" x="398.21" y="380.44"/>
<use href="#mplus" x="407.13" y="385.37"/>
<use href="#mplus" x="416.05" y="390.15"/>
<use href="#mplus" x="424.97" y="394.8"/>
<use href="#mplus" x="433.89" y="399.31"/>
<use href="#mplus" x="442.81" y="403.69"/>
<use href="#mplus" x="451.73" y="407.95"/>
<use href="#mplus" x="460.65" y="412.09"/>
<use href="#mplus" x="469.57" y="416.12"/>
<use href="#mplus" x="478.49" y="420.04"/>
<use href="#mplus" x="487.41" y="423.85"/>
<use href="#mplus" x="496.33" y="427.56"/>
<use href="#mplus" x="505.24" y="431.17"/>
<use href="#mplus" x="514.16" y="434.69"/>
<use href="#mplus" x="523.08" y="438.11"/>
<use href="#mplus" x="532" y="441.45"/>
<use href="#mplus" x="540.92" y="444.69"/>
<use href="#mplus" x="549.84" y="447.86"/>
<use href="#mplus" x="558.76" y="450.94"/>
<use href="#mplus" x="567.68" y="453.95"/>
<use href="#mplus" x="576.6" y="456.87"/>
<use href="#mplus" x="585.52" y="459.71"/>
<use href="#mplus" x="594.44" y="462.48"/>
<use href="#mplus" x="603.36" y="465.18"/>
<use href="#mplus" x="612.27" y="467.81"/>
<use href="#mplus" x="621.19" y="470.37"/>
<use href="#mplus" x="630.11" y="472.86"/>
<use href="#mplus" x="639.03" y="475.29"/>
<use href="#mplus" x="647.95" y="477.66"/>
<use href="#mplus" x="656.87" y="479.97"/>
<use href="#mplus" x="665.79" y="482.22"/>
<use href="#mplus" x="674.71" y="484.42"/>
<use href="#mplus" x="683.63" y="486.56"/>
<use href="#mplus" x="692.55" y="488.64"/>
<use href="#mplus" x="701.47" y="490.68"/>
<use href="#mplus" x="710.39" y="492.67"/>
<use href="#mplus" x="719.31" y="494.6"/>
<use href="#mplus" x="728.22" y="496.5"/>
<use href="#mplus" x="737.14" y="498.34"/>
<use href="#mplus" x="746.06" y="500.14"/>
<use href="#mplus" x="754.98" y="501.9"/>
<use href="#mplus" x="763.9" y="503.62"/>
<use href="#mplus" x="772.82" y="505.3"/>
<use href="#mplus" x="781.74" y="506.94"/>
<use href="#mplus" x="790.66" y="508.54"/>
<use href="#mplus" x="799.58" y="510.1"/>
<use href="#mplus" x="808.5" y="511.63"/>
<use href="#mplus" x="817.42" y="513.12"/>
<use href="#mplus" x="826.34" y="514.57"/>
<use href="#mplus" x="835.25" y="516"/>
<use href="#mplus" x="844.17" y="517.39"/>
<use href="#mplus" x="853.09" y="518.75"/>
<use href="#mplus" x="862.01" y="520.08"/>
<use href="#mplus" x="870.93" y="521.38"/>
<use href="#mplus" x="879.85" y="522.66"/>
<use href="#mplus" x="888.77" y="523.9"/>
<use href="#mplus" x="897.69" y="525.12"/>
<use href="#mplus" x="906.61" y="526.31"/>
<use href="#mplus" x="915.53" y="527.47"/>
<use href="#mplus" x="924.45" y="528.61"/>
<use href="#mplus" x="933.37" y="529.73"/>
<use href="#mplus" x="942.28" y="530.82"/>
<use href="#mplus" x="951.2" y="531.89"/>
<use href="#mplus" x="960.12" y="532.93"/>
<use href="#mplus" x="969.04" y="533.96"/>
<use href="#mplus" x="977.96" y="534.96"/>
<use href="#mplus" x="986.88" y="535.94"/>
<use href="#mplus" x="995.8" y="536.9"/>
</g>
<path d="M112.8 42.98 L121.72 57.66 L130.64 71.77 L139.56 85.35 L148.48 98.43 L157.4 111.01 L166.32 123.14 L175.23 134.82 L184.15 146.08 L193.07 156.93 L201.99 167.4 L210.91 177.5 L219.83 187.24 L228.75 196.65 L237.67 205.73 L246.59 214.5 L255.51 222.98 L264.43 231.17 L273.35 239.09 L282.26 246.75 L291.18 254.15 L300.1 261.32 L309.02 268.25 L317.94 274.97 L326.86 281.47 L335.78 287.76 L344.7 293.87 L353.62 299.78 L362.54 305.51 L371.46 311.07 L380.38 316.46 L389.29 321.69 L398.21 326.76 L407.13 331.69 L416.05 336.47 L424.97 341.11 L433.89 345.63 L442.81 350.01 L451.73 354.27 L460.65 358.42 L469.57 362.44 L478.49 366.36 L487.41 370.17 L496.33 373.88 L505.24 377.5 L514.16 381.01 L523.08 384.43 L532 387.77 L540.92 391.02 L549.84 394.18 L558.76 397.27 L567.68 400.27 L576.6 403.19 L585.52 406.04 L594.44 408.81 L603.36 411.5 L612.27 414.13 L621.19 416.69 L630.11 419.19 L639.03 421.62 L647.95 423.98 L656.87 426.29 L665.79 428.54 L674.71 430.74 L683.63 432.88 L692.55 434.97 L701.47 437 L710.39 438.99 L719.31 440.93 L728.22 442.82 L737.14 444.67 L746.06 446.47 L754.98 448.23 L763.9 449.94 L772.82 451.62 L781.74 453.26 L790.66 454.86 L799.58 456.42 L808.5 457.95 L817.42 459.44 L826.34 460.9 L835.25 462.32 L844.17 463.72 L853.09 465.08 L862.01 466.41 L870.93 467.71 L879.85 468.98 L888.77 470.22 L897.69 471.44 L906.61 472.63 L915.53 473.8 L924.45 474.94 L933.37 476.05 L942.28 477.14 L951.2 478.21 L960.12 479.26 L969.04 480.28 L977.96 481.28 L986.88 482.26 L995.8 483.22" fill="none" stroke="#0000ff" stroke-width="5.94" stroke-dasharray="1.98 5.94" stroke-linecap="butt" stroke-linejoin="round"/>
<g fill="#0000ff" stroke="#000" stroke-width="1.1">
<use href="#mr" x="112.8" y="42.98"/>
<use href="#mr" x="121.72" y="57.66"/>
<use href="#mr" x="130.64" y="71.77"/>
<use href="#mr" x="139.56" y="85.35"/>
<use href="#mr" x="148.48" y="98.43"/>
<use href="#mr" x="157.4" y="111.01"/>
<use href="#mr" x="166.32" y="123.14"/>
<use href="#mr" x="175.23" y="134.82"/>
<use href="#mr" x="184.15" y="146.08"/>
<use href="#mr" x="193.07" y="156.93"/>
<use href="#mr" x="201.99" y="167.4"/>
<use href="#mr" x="210.91" y="177.5"/>
<use href="#mr" x="219.83" y="187.24"/>
<use href="#mr" x="228.75" y="196.65"/>
<use href="#mr" x="237.67" y="205.73"/>
<use href="#mr" x="246.59" y="214.5"/>
<use href="#mr" x="255.51" y="222.98"/>
<use href="#mr" x="264.43" y="231.17"/>
<use href="#mr" x="273.35" y="239.09"/>
<use href="#mr" x="282.26" y="246.75"/>
<use href="#mr" x="291.18" y="254.15"/>
<use href="#mr" x="300.1" y="261.32"/>
<use href="#mr" x="309.02" y="268.25"/>
<use href="#mr" x="317.94" y="274.97"/>
<use href="#mr" x="326.86" y="281.47"/>
<use href="#mr" x="335.78" y="287.76"/>
<use href="#mr" x="344.7" y="293.87"/>
<use href="#mr" x="353.62" y="299.78"/>
<use href="#mr" x="362.54" y="305.51"/>
<use href="#mr" x="371.46" y="311.07"/>
<use href="#mr" x="380.38" y="316.46"/>
<use href="#mr" x="389.29" y="321.69"/>
<use href="#mr" x="398.21" y="326.76"/>
<use href="#mr" x="407.13" y="331.69"/>
<use href="#mr" x="416.05" y="336.47"/>
<use href="#mr" x="424.97" y="341.11"/>
<use href="#mr" x="433.89" y="345.63"/>
<use href="#mr" x="442.81" y="350.01"/>
<use href="#mr" x="451.73" y="354.27"/>
<use href="#mr" x="460.65" y="358.42"/>
<use href="#mr" x="469.57" y="362.44"/>
<use href="#mr" x="478.49" y="366.36"/>
<use href="#mr" x="487.41" y="370.17"/>
<use href="#mr" x="496.33" y="373.88"/>
<use href="#mr" x="505.24" y="377.5"/>
<use href="#mr" x="514.16" y="381.01"/>
<use href="#mr" x="523.08" y="384.43"/>
<use href="#mr" x="532" y="387.77"/>
<use href="#mr" x="540.92" y="391.02"/>
<use href="#mr" x="549.84" y="394.18"/>
<use href="#mr" x="558.76" y="397.27"/>
<use href="#mr" x="567.68" y="400.27"/>
<use href="#mr" x="576.6" y="403.19"/>
<use href="#mr" x="585.52" y="406.04"/>
<use href="#mr" x="594.44" y="408.81"/>
<use href="#mr" x="603.36" y="411.5"/>
<use href="#mr" x="612.27" y="414.13"/>
<use href="#mr" x="621.19" y="416.69"/>
<use href="#mr" x="630.11" y="419.19"/>
<use href="#mr" x="639.03" y="421.62"/>
<use href="#mr" x="647.95" y="423.98"/>
<use href="#mr" x="656.87" y="426.29"/>
<use href="#mr" x="665.79" y="428.54"/>
<use href="#mr" x="674.71" y="430.74"/>
<use href="#mr" x="683.63" y="432.88"/>
<use href="#mr" x="692.55" y="434.97"/>
<use href="#mr" x="701.47" y="437"/>
<use href="#mr" x="710.39" y="438.99"/>
<use href="#mr" x="719.31" y="440.93"/>
<use href="#mr" x="728.22" y="442.82"/>
<use href="#mr" x="737.14" y="444.67"/>
<use href="#mr" x="746.06" y="446.47"/>
<use href="#mr" x="754.98" y="448.23"/>
<use href="#mr" x="763.9" y="449.94"/>
<use href="#mr" x="772.82" y="451.62"/>
<use href="#mr" x="781.74" y="453.26"/>
<use href="#mr" x="790.66" y="454.86"/>
<use href="#mr" x="799.58" y="456.42"/>
<use href="#mr" x="808.5" y="457.95"/>
<use href="#mr" x="817.42" y="459.44"/>
<use href="#mr" x="826.34" y="460.9"/>
<use href="#mr" x="835.25" y="462.32"/>
<use href="#mr" x="844.17" y="463.72"/>
<use href="#mr" x="853.09" y="465.08"/>
<use href="#mr" x="862.01" y="466.41"/>
<use href="#mr" x="870.93" y="467.71"/>
<use href="#mr" x="879.85" y="468.98"/>
<use href="#mr" x="888.77" y="470.22"/>
<use href="#mr" x="897.69" y="471.44"/>
<use href="#mr" x="906.61" y="472.63"/>
<use href="#mr" x="915.53" y="473.8"/>
<use href="#mr" x="924.45" y="474.94"/>
<use href="#mr" x="933.37" y="476.05"/>
<use href="#mr" x="942.28" y="477.14"/>
<use href="#mr" x="951.2" y="478.21"/>
<use href="#mr" x="960.12" y="479.26"/>
<use href="#mr" x="969.04" y="480.28"/>
<use href="#mr" x="977.96" y="481.28"/>
<use href="#mr" x="986.88" y="482.26"/>
<use href="#mr" x="995.8" y="483.22"/>
</g>
<g fill="#ff0000" stroke="#000" stroke-width="1.1">
<use href="#mo" x="425.78" y="770.38"/>
<use href="#mo" x="467.75" y="790.8"/>
<use href="#mo" x="510.59" y="808.97"/>
<use href="#mo" x="554.3" y="825.15"/>
<use href="#mo" x="598.89" y="839.57"/>
<use href="#mo" x="644.38" y="852.45"/>
<use href="#mo" x="690.76" y="863.97"/>
</g>
</g>
<g stroke="#000" stroke-width="1" stroke-dasharray="1.98 5.94" fill="none">
<path d="M259.5 932 V20"/>
<path d="M407 932 V20"/>
<path d="M554.5 932 V20"/>
<path d="M701.5 932 V20"/>
<path d="M848.5 932 V20"/>
<path d="M113 825 H996"/>
<path d="M113 556.7 H996"/>
<path d="M113 288.5 H996"/>
</g>
<g stroke="#000" stroke-width="1" fill="none">
<path d="M259.5 932 v-10 M259.5 20 v10"/>
<path d="M407 932 v-10 M407 20 v10"/>
<path d="M554.5 932 v-10 M554.5 20 v10"/>
<path d="M701.5 932 v-10 M701.5 20 v10"/>
<path d="M848.5 932 v-10 M848.5 20 v10"/>
<path d="M113 932 v-10 M113 20 v10"/>
<path d="M996 932 v-10 M996 20 v10"/>
<path d="M113 825 h10 M996 825 h-10"/>
<path d="M113 556.7 h10 M996 556.7 h-10"/>
<path d="M113 288.5 h10 M996 288.5 h-10"/>
<path d="M113 20 h10 M996 20 h-10"/>
</g>
<rect x="113" y="20" width="883" height="912" fill="none" stroke="#000" stroke-width="4"/>
<g>
<text font-size="33.92"><tspan x="50.33" y="31.55" textLength="18" lengthAdjust="spacingAndGlyphs">1</tspan><tspan x="70.92" y="31.55" textLength="17.79" lengthAdjust="spacingAndGlyphs">5</tspan><tspan x="90.97" y="31.55" textLength="18.85" lengthAdjust="spacingAndGlyphs">0</tspan></text>
<text font-size="33.92"><tspan x="50.75" y="300.05" textLength="17.87" lengthAdjust="spacingAndGlyphs">1</tspan><tspan x="70.79" y="300.05" textLength="18.71" lengthAdjust="spacingAndGlyphs">0</tspan><tspan x="91.1" y="300.05" textLength="18.71" lengthAdjust="spacingAndGlyphs">0</tspan></text>
<text font-size="33.92"><tspan x="69.82" y="568.25" textLength="17.74" lengthAdjust="spacingAndGlyphs">5</tspan><tspan x="89.82" y="568.25" textLength="18.8" lengthAdjust="spacingAndGlyphs">0</tspan></text>
<text font-size="33.92"><tspan x="89.58" y="836.25" textLength="18.73" lengthAdjust="spacingAndGlyphs">0</tspan></text>
<text font-size="33.92"><tspan x="77.65" y="966.21" font-size="37.26" textLength="24.3" lengthAdjust="spacingAndGlyphs">−</tspan><tspan x="104.13" y="963.85" textLength="18.93" lengthAdjust="spacingAndGlyphs">0</tspan><tspan x="124.14" y="963.85" textLength="9.71" lengthAdjust="spacingAndGlyphs">.</tspan><tspan x="135.36" y="963.85" textLength="18.18" lengthAdjust="spacingAndGlyphs">3</tspan></text>
<text font-size="33.92"><tspan x="225.47" y="966.21" font-size="37.26" textLength="24.01" lengthAdjust="spacingAndGlyphs">−</tspan><tspan x="251.64" y="963.85" textLength="18.71" lengthAdjust="spacingAndGlyphs">0</tspan><tspan x="271.41" y="963.85" textLength="9.59" lengthAdjust="spacingAndGlyphs">.</tspan><tspan x="282" y="963.85" textLength="18.03" lengthAdjust="spacingAndGlyphs">2</tspan></text>
<text font-size="33.92"><tspan x="372.64" y="966.21" font-size="37.26" textLength="24.08" lengthAdjust="spacingAndGlyphs">−</tspan><tspan x="398.89" y="963.85" textLength="18.76" lengthAdjust="spacingAndGlyphs">0</tspan><tspan x="418.71" y="963.85" textLength="9.62" lengthAdjust="spacingAndGlyphs">.</tspan><tspan x="429.69" y="963.85" textLength="17.92" lengthAdjust="spacingAndGlyphs">1</tspan></text>
<text font-size="33.92"><tspan x="531.46" y="963.85" textLength="19.1" lengthAdjust="spacingAndGlyphs">0</tspan><tspan x="551.65" y="963.85" textLength="9.79" lengthAdjust="spacingAndGlyphs">.</tspan><tspan x="562.54" y="963.85" textLength="19.1" lengthAdjust="spacingAndGlyphs">0</tspan></text>
<text font-size="33.92"><tspan x="679.18" y="963.85" textLength="18.83" lengthAdjust="spacingAndGlyphs">0</tspan><tspan x="699.08" y="963.85" textLength="9.66" lengthAdjust="spacingAndGlyphs">.</tspan><tspan x="710.09" y="963.85" textLength="17.99" lengthAdjust="spacingAndGlyphs">1</tspan></text>
<text font-size="33.92"><tspan x="826.53" y="963.85" textLength="18.76" lengthAdjust="spacingAndGlyphs">0</tspan><tspan x="846.36" y="963.85" textLength="9.62" lengthAdjust="spacingAndGlyphs">.</tspan><tspan x="856.98" y="963.85" textLength="18.08" lengthAdjust="spacingAndGlyphs">2</tspan></text>
<text font-size="33.92"><tspan x="973.7" y="963.85" textLength="18.76" lengthAdjust="spacingAndGlyphs">0</tspan><tspan x="993.52" y="963.85" textLength="9.62" lengthAdjust="spacingAndGlyphs">.</tspan><tspan x="1004.64" y="963.85" textLength="18.02" lengthAdjust="spacingAndGlyphs">3</tspan></text>
<text font-size="38.16"><tspan x="404.04" y="1001.1" textLength="24.13" lengthAdjust="spacingAndGlyphs">V</tspan><tspan x="425.92" y="1001.1" textLength="21.08" lengthAdjust="spacingAndGlyphs">o</tspan><tspan x="448.26" y="1001.1" textLength="8.1" lengthAdjust="spacingAndGlyphs">l</tspan><tspan x="457.79" y="1001.1" textLength="21.38" lengthAdjust="spacingAndGlyphs">u</tspan><tspan x="480.39" y="1001.1" textLength="33.83" lengthAdjust="spacingAndGlyphs">m</tspan><tspan x="514.91" y="1001.1" textLength="21.41" lengthAdjust="spacingAndGlyphs">e</tspan><tspan x="536.74" y="1001.1" textLength="13.24" lengthAdjust="spacingAndGlyphs">t</tspan><tspan x="550.69" y="1001.1" textLength="15.21" lengthAdjust="spacingAndGlyphs">r</tspan><tspan x="566.06" y="1001.1" textLength="8.1" lengthAdjust="spacingAndGlyphs">i</tspan><tspan x="575.49" y="1001.1" textLength="17.88" lengthAdjust="spacingAndGlyphs">c</tspan> <tspan x="606.96" y="1001.1" textLength="17.09" lengthAdjust="spacingAndGlyphs">s</tspan><tspan x="624.79" y="1001.1" textLength="13.24" lengthAdjust="spacingAndGlyphs">t</tspan><tspan x="638.73" y="1001.1" textLength="15.21" lengthAdjust="spacingAndGlyphs">r</tspan><tspan x="653.96" y="1001.1" textLength="17.83" lengthAdjust="spacingAndGlyphs">a</tspan><tspan x="675.95" y="1001.1" textLength="8.1" lengthAdjust="spacingAndGlyphs">i</tspan><tspan x="685.62" y="1001.1" textLength="21.38" lengthAdjust="spacingAndGlyphs">n</tspan></text>
<text font-size="38.16" transform="rotate(-90)"><tspan x="-594.89" y="35.6" textLength="21.06" lengthAdjust="spacingAndGlyphs">P</tspan><tspan x="-574.69" y="35.6" textLength="15.24" lengthAdjust="spacingAndGlyphs">r</tspan><tspan x="-560.67" y="35.6" textLength="21.45" lengthAdjust="spacingAndGlyphs">e</tspan><tspan x="-538.05" y="35.6" textLength="17.11" lengthAdjust="spacingAndGlyphs">s</tspan><tspan x="-519.89" y="35.6" textLength="21.41" lengthAdjust="spacingAndGlyphs">u</tspan><tspan x="-497.59" y="35.6" textLength="15.24" lengthAdjust="spacingAndGlyphs">r</tspan><tspan x="-483.57" y="35.6" textLength="21.45" lengthAdjust="spacingAndGlyphs">e</tspan> <tspan x="-449.38" y="33.22" font-size="34.42" textLength="10.05" lengthAdjust="spacingAndGlyphs">(</tspan><tspan x="-436.39" y="35.6" textLength="27.09" lengthAdjust="spacingAndGlyphs">G</tspan><tspan x="-408.06" y="35.6" textLength="21.06" lengthAdjust="spacingAndGlyphs">P</tspan><tspan x="-388.26" y="35.6" textLength="17.86" lengthAdjust="spacingAndGlyphs">a</tspan><tspan x="-364.48" y="33.22" font-size="34.42" textLength="10.05" lengthAdjust="spacingAndGlyphs">)</tspan></text>
</g>
<rect x="750" y="36.3" width="230" height="171.6" fill="#fff" stroke="#000" stroke-width="4"/>
<path d="M765.3 55.5 H810.1" fill="none" stroke="#ff0000" stroke-width="5.94" stroke-linecap="square" stroke-linejoin="round"/>
<text font-size="33.92"><tspan x="822.98" y="65.8" textLength="7.37" lengthAdjust="spacingAndGlyphs">i</tspan><tspan x="831.46" y="65.8" textLength="19.61" lengthAdjust="spacingAndGlyphs">d</tspan></text>
<path d="M765.3 89.35 H810.1" fill="none" stroke="#000000" stroke-width="5.94" stroke-linecap="square" stroke-linejoin="round"/>
<g fill="#000000" stroke="#000" stroke-width="1.1">
<use href="#mv" x="765.3" y="89.35"/>
<use href="#mv" x="810.1" y="89.35"/>
</g>
<text font-size="33.92"><tspan x="822.84" y="99.8" textLength="23.93" lengthAdjust="spacingAndGlyphs">O</tspan></text>
<path d="M765.3 123.2 H810.1" fill="none" stroke="#ff0000" stroke-width="5.94" stroke-dasharray="11.88 11.88" stroke-linecap="butt" stroke-linejoin="round"/>
<g fill="#ff0000" stroke="#000" stroke-width="1.1">
<use href="#mo" x="765.3" y="123.2"/>
<use href="#mo" x="810.1" y="123.2"/>
</g>
<text font-size="33.92"><tspan x="822.77" y="133.8" textLength="19.58" lengthAdjust="spacingAndGlyphs">S</tspan></text>
<path d="M765.3 157.05 H810.1" fill="none" stroke="#008000" stroke-width="5.94" stroke-linecap="square" stroke-linejoin="round"/>
<g fill="#008000" stroke="#000" stroke-width="1.1">
<use href="#ms" x="765.3" y="157.05"/>
<use href="#ms" x="810.1" y="157.05"/>
</g>
<text font-size="33.92"><tspan x="822.56" y="167.8" textLength="21.89" lengthAdjust="spacingAndGlyphs">C</tspan></text>
<path d="M765.3 190.9 H810.1" fill="none" stroke="#00bfbf" stroke-width="5.94" stroke-linecap="square" stroke-linejoin="round"/>
<g fill="#00bfbf" stroke="#000" stroke-width="1.1">
<use href="#mp" x="765.3" y="190.9"/>
<use href="#mp" x="810.1" y="190.9"/>
</g>
<text font-size="33.92"><tspan x="821.51" y="201.8" textLength="21.39" lengthAdjust="spacingAndGlyphs">T</tspan></text>
<path d="M858.2 55.5 H902.6" fill="none" stroke="#0000ff" stroke-width="5.94" stroke-linecap="square" stroke-linejoin="round"/>
<g fill="#0000ff" stroke="#000" stroke-width="1.1">
<use href="#mH" x="858.2" y="55.5"/>
<use href="#mH" x="902.6" y="55.5"/>
</g>
<text font-size="33.92"><tspan x="915.41" y="65.8" textLength="21.07" lengthAdjust="spacingAndGlyphs">B</tspan><tspan x="936.84" y="65.8" textLength="25" lengthAdjust="spacingAndGlyphs">O</tspan></text>
<path d="M858.2 89.35 H902.6" fill="none" stroke="#000000" stroke-width="5.94" stroke-dasharray="11.88 11.88" stroke-linecap="butt" stroke-linejoin="round"/>
<g fill="#000000" stroke="#000" stroke-width="1.1">
<use href="#mu" x="858.2" y="89.35"/>
<use href="#mu" x="902.6" y="89.35"/>
</g>
<text font-size="33.92"><tspan x="915.48" y="99.8" textLength="20.52" lengthAdjust="spacingAndGlyphs">B</tspan><tspan x="936.87" y="99.8" textLength="18.83" lengthAdjust="spacingAndGlyphs">S</tspan></text>
<path d="M858.2 123.2 H902.6" fill="none" stroke="#00bfbf" stroke-width="5.94" stroke-dasharray="1.98 5.94" stroke-linecap="butt" stroke-linejoin="round"/>
<g fill="none" stroke="#00bfbf" stroke-width="1">
<use href="#mplus" x="858.2" y="123.2"/>
<use href="#mplus" x="902.6" y="123.2"/>
</g>
<text font-size="33.92"><tspan x="915.53" y="133.8" textLength="20.87" lengthAdjust="spacingAndGlyphs">B</tspan><tspan x="936.75" y="133.8" textLength="21.59" lengthAdjust="spacingAndGlyphs">C</tspan></text>
<path d="M858.2 157.05 H902.6" fill="none" stroke="#0000ff" stroke-width="5.94" stroke-dasharray="1.98 5.94" stroke-linecap="butt" stroke-linejoin="round"/>
<g fill="#0000ff" stroke="#000" stroke-width="1.1">
<use href="#mr" x="858.2" y="157.05"/>
<use href="#mr" x="902.6" y="157.05"/>
</g>
<text font-size="33.92"><tspan x="915.58" y="167.8" textLength="20.49" lengthAdjust="spacingAndGlyphs">B</tspan><tspan x="935.82" y="167.8" textLength="21.07" lengthAdjust="spacingAndGlyphs">T</tspan></text>
<g fill="#ff0000" stroke="#000" stroke-width="1.1">
<use href="#mo" x="858.2" y="190.9"/>
<use href="#mo" x="902.6" y="190.9"/>
</g>
<text font-size="33.92"><tspan x="915.4" y="201.8" textLength="23.79" lengthAdjust="spacingAndGlyphs">D</tspan><tspan x="940.38" y="201.8" textLength="16.67" lengthAdjust="spacingAndGlyphs">F</tspan><tspan x="956.38" y="201.8" textLength="21.22" lengthAdjust="spacingAndGlyphs">T</tspan></text>
</svg></body></html>
